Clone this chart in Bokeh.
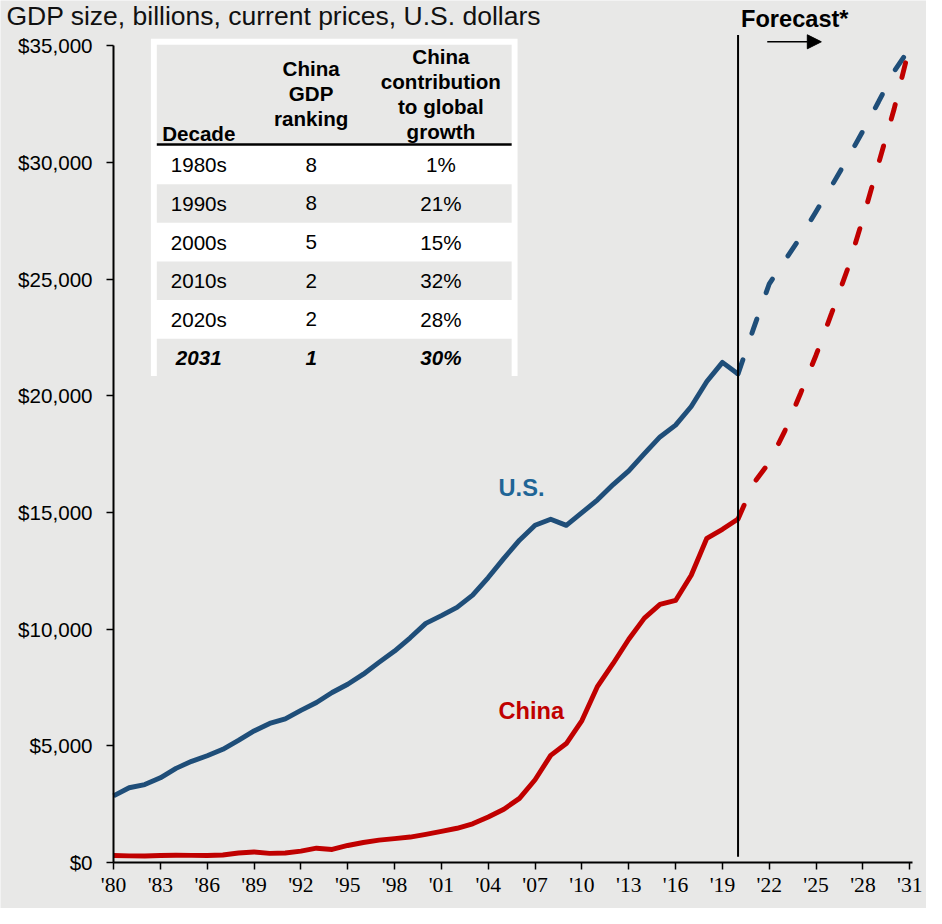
from bokeh.plotting import figure
from bokeh.models import Range1d, FixedTicker, NumeralTickFormatter, Label, Arrow, NormalHead
from bokeh.core.properties import value
from bokeh.embed import file_html
from bokeh.resources import INLINE

# ---------------- data ----------------
years_hist = list(range(1980, 2021))
us_hist = [2857, 3207, 3343, 3634, 4037, 4339, 4580, 4855, 5236, 5642,
           5963, 6158, 6520, 6858, 7287, 7640, 8073, 8578, 9063, 9631,
           10251, 10582, 10936, 11458, 12214, 13037, 13815, 14452, 14713, 14449,
           14992, 15543, 16197, 16785, 17527, 18238, 18745, 19543, 20612, 21433,
           20937]
china_hist = [305, 290, 284, 306, 314, 310, 301, 327, 410, 456,
              395, 414, 494, 617, 564, 734, 863, 961, 1029, 1094,
              1211, 1339, 1471, 1660, 1955, 2286, 2752, 3550, 4594, 5102,
              6087, 7552, 8532, 9570, 10476, 11062, 11233, 12310, 13895, 14280,
              14723]
years_fc = list(range(2020, 2032))
us_fc = [20937, 22900, 24800, 25800, 26800, 27900, 29000, 30150, 31350, 32600, 33900, 34900]
china_fc = [14723, 16250, 17150, 18500, 20100, 21750, 23550, 25400, 27600, 29950, 32300, 35000]

x_ticks = list(range(1980, 2032, 3))
x_tick_labels = ["'80", "'83", "'86", "'89", "'92", "'95", "'98", "'01", "'04",
                 "'07", "'10", "'13", "'16", "'19", "'22", "'25", "'28", "'31"]
y_ticks = [0, 5000, 10000, 15000, 20000, 25000, 30000, 35000]

forecast_start = 2020

table_headers = ["Decade", "China\nGDP\nranking", "China\ncontribution\nto global\ngrowth"]
decades = ["1980s", "1990s", "2000s", "2010s", "2020s", "2031"]
ranking = ["8", "8", "5", "2", "2", "1"]
contribution = ["1%", "21%", "15%", "32%", "28%", "30%"]

title_text = "GDP size, billions, current prices, U.S. dollars"
forecast_text = "Forecast*"

# ---------------- style / geometry ----------------
BG = "#e8e8e7"
US_C = "#1f4e79"
US_LABEL_C = "#1f6596"
CN_C = "#c00000"
FONT = "Liberation Sans"

W, H = 926, 908
S = W / 942.0                       # scale from the 942-px reference layout
REF_W, REF_H = W / S, H / S


def fs(px):
    return "%.1fpx" % (px * S)


# reference-pixel anchors of the axes
R_X80, R_X31 = 115, 925             # x of the '80 and '31 ticks
R_Y0, R_Y35 = 877, 46               # y of the $0 and $35,000 ticks
R_XEND = 928                        # right end of the x axis line
Y_PER_PX = 35000 / (R_Y0 - R_Y35)


def sx(rx):  # reference pixel -> data x
    return 1980 + (rx - R_X80) * 51 / (R_X31 - R_X80)


def sy(ry):  # reference pixel -> data y
    return (R_Y0 - ry) * Y_PER_PX


# the frame covers the whole canvas; the axes sit at fixed data locations
p = figure(width=W, height=H, x_range=Range1d(sx(0), sx(REF_W)),
           y_range=Range1d(sy(REF_H), sy(0)),
           output_backend="svg", toolbar_location=None, title=None,
           min_border_left=0, min_border_right=0, min_border_top=0, min_border_bottom=0,
           background_fill_color=BG, border_fill_color=BG, outline_line_color=None)
p.grid.visible = False

xa = p.xaxis[0]
xa.fixed_location = 0
xa.bounds = (1980, sx(R_XEND))
xa.ticker = FixedTicker(ticks=x_ticks)
xa.major_label_overrides = {t: l for t, l in zip(x_ticks, x_tick_labels)}
xa.axis_line_color = "black"
xa.axis_line_width = 2
xa.major_tick_line_color = "black"
xa.major_tick_line_width = 1.5
xa.major_tick_out = 7
xa.major_tick_in = 0
xa.minor_tick_line_color = None
xa.major_label_standoff = 3
xa.major_label_text_font = "Liberation Sans Narrow"
xa.major_label_text_font_size = fs(22)
xa.major_label_text_color = "black"

ya = p.yaxis[0]
ya.fixed_location = 1980
ya.bounds = (0, 35000)
ya.ticker = FixedTicker(ticks=y_ticks)
ya.formatter = NumeralTickFormatter(format="$0,0")
ya.axis_line_color = "black"
ya.axis_line_width = 2
ya.major_tick_line_color = "black"
ya.major_tick_line_width = 1.5
ya.major_tick_out = 7
ya.major_tick_in = 0
ya.minor_tick_line_color = None
ya.major_label_standoff = 14
ya.major_label_text_font = FONT
ya.major_label_text_font_size = fs(21)
ya.major_label_text_color = "black"

LW = 5 * S
p.line(years_hist, us_hist, line_color=US_C, line_width=LW, line_join="round")
p.line(years_hist, china_hist, line_color=CN_C, line_width=LW, line_join="round")
p.line(years_fc, us_fc, line_color=US_C, line_width=LW, line_dash="15 28", line_cap="round")
p.line(years_fc, china_fc, line_color=CN_C, line_width=LW, line_dash="15 28", line_cap="round")

p.segment(x0=[forecast_start], y0=[sy(871)], x1=[forecast_start], y1=[sy(35)],
          line_color="black", line_width=2)

# ---------------- table ----------------
p.quad(left=[sx(153)], right=[sx(526)], top=[sy(39)], bottom=[sy(382)],
       fill_color="white", line_color=None)
TL, TR = 159, 520
p.quad(left=[sx(TL)], right=[sx(TR)], top=[sy(45)], bottom=[sy(146)],
       fill_color=BG, line_color=None)
row_top, row_h = 147.5, 39.3
gray_rows = [i for i in range(len(decades)) if i % 2 == 1]
p.quad(left=[sx(TL)] * len(gray_rows), right=[sx(TR)] * len(gray_rows),
       top=[sy(row_top + i * row_h) for i in gray_rows],
       bottom=[sy(row_top + (i + 1) * row_h) for i in gray_rows],
       fill_color=BG, line_color=None)
p.segment(x0=[sx(TL)], y0=[sy(146.5)], x1=[sx(TR)], y1=[sy(146.5)],
          line_color="black", line_width=2.5)

col_x = [201.7, 316, 448]
hx, hy, ht = [], [], []
for ci, h in enumerate(table_headers):
    lines = h.split("\n")
    if ci == 0:
        ys = [135]
    else:
        lh = 25.5
        n = len(lines)
        ys = [95 + (k - (n - 1) / 2) * lh for k in range(n)]
    for ln, yy in zip(lines, ys):
        hx.append(sx(col_x[ci]))
        hy.append(sy(yy))
        ht.append(ln)
p.text(x=hx, y=hy, text=ht, text_font=value(FONT), text_font_style="bold",
       text_font_size=fs(21), text_align="center", text_baseline="middle", text_color="black")

for i, (d, r, c) in enumerate(zip(decades, ranking, contribution)):
    yy = sy(row_top + (i + 0.5) * row_h)
    style = "bold italic" if i == len(decades) - 1 else "normal"
    p.text(x=[sx(col_x[0]), sx(col_x[1]), sx(col_x[2])], y=[yy] * 3, text=[d, r, c],
           text_font=value(FONT), text_font_style=style, text_font_size=fs(21),
           text_align="center", text_baseline="middle", text_color="black")

# ---------------- labels ----------------
p.add_layout(Label(x=sx(6), y=sy(16), text=title_text, text_font=FONT,
                   text_font_size=fs(27), text_color="#111111", text_align="left",
                   text_baseline="middle"))
p.add_layout(Label(x=sx(808), y=sy(19), text=forecast_text, text_font=FONT,
                   text_font_style="bold", text_font_size=fs(24), text_color="black",
                   text_align="center", text_baseline="middle"))
p.add_layout(Label(x=sx(530), y=sy(496), text="U.S.", text_font=FONT, text_font_style="bold",
                   text_font_size=fs(24), text_color=US_LABEL_C, text_align="center",
                   text_baseline="middle"))
p.add_layout(Label(x=sx(540), y=sy(723), text="China", text_font=FONT, text_font_style="bold",
                   text_font_size=fs(24), text_color=CN_C, text_align="center",
                   text_baseline="middle"))
p.add_layout(Arrow(end=NormalHead(size=14, fill_color="black", line_color="black"),
                   x_start=sx(780), y_start=sy(42), x_end=sx(835), y_end=sy(42),
                   line_color="black", line_width=1.5))

open("out.html", "w").write(file_html(p, INLINE))
